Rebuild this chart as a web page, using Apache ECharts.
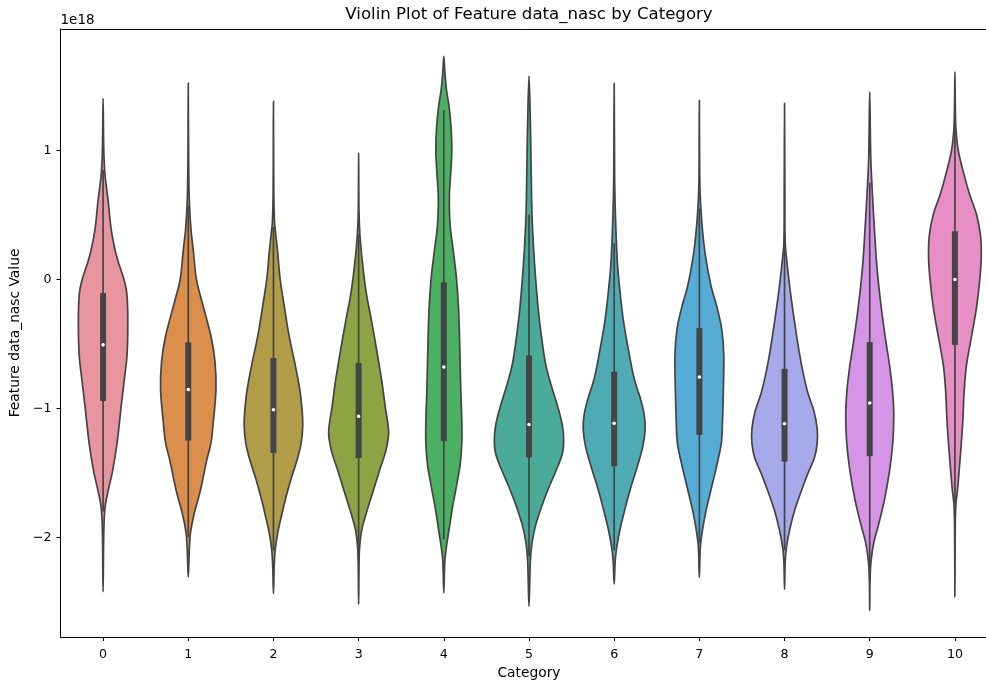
<!DOCTYPE html>
<html><head><meta charset="utf-8">
<script src="https://cdn.jsdelivr.net/npm/echarts@6/dist/echarts.min.js"></script>
<style>html,body{margin:0;padding:0;background:#fff}#c{width:986px;height:681px}</style>
</head><body><div id="c"></div>
<script>
// values in units of 1e18
const categories = ['0','1','2','3','4','5','6','7','8','9','10'];
const medians = [-0.507,-0.853,-1.011,-1.061,-0.679,-1.125,-1.116,-0.756,-1.119,-0.958,0.0];
const q1 = [-0.942,-1.249,-1.346,-1.385,-1.255,-1.380,-1.449,-1.205,-1.413,-1.371,-0.507];
const q3 = [-0.105,-0.488,-0.609,-0.648,-0.022,-0.590,-0.715,-0.377,-0.693,-0.485,0.374];
const whiskerLow = [-1.80,-2.00,-2.10,-2.20,-2.017,-2.15,-2.10,-2.044,-2.10,-2.35,-1.74];
const whiskerHigh = [0.85,0.573,0.407,0.35,1.313,0.504,0.283,0.55,0.296,0.753,1.20];
const yTicks = [-2,-1,0,1];
// violin outline: values (top to bottom) and half-widths (fraction of category band)
const violinValues = [
  [1.404,1.003,0.809,0.615,0.393,0.227,0.116,0.006,-0.105,-0.299,-0.576,-0.770,-0.992,-1.269,-1.490,-1.629,-1.767,-1.961,-2.424],
  [1.524,0.947,0.615,0.393,0.227,0.006,-0.161,-0.438,-0.632,-0.853,-1.130,-1.269,-1.407,-1.629,-1.823,-1.961,-2.100,-2.307],
  [1.382,0.670,0.449,0.393,0.227,0.006,-0.216,-0.438,-0.659,-0.853,-0.992,-1.130,-1.269,-1.407,-1.546,-1.684,-1.823,-1.961,-2.100,-2.238,-2.438],
  [0.983,0.532,0.338,0.116,-0.105,-0.327,-0.576,-0.798,-0.992,-1.186,-1.324,-1.463,-1.629,-1.795,-1.934,-2.044,-2.155,-2.521],
  [1.731,1.612,1.474,1.335,1.169,1.003,0.837,0.670,0.532,0.393,0.227,0.006,-0.216,-0.438,-0.659,-0.881,-1.102,-1.269,-1.435,-1.601,-1.767,-1.934,-2.072,-2.183,-2.432],
  [1.579,1.224,0.947,0.504,0.227,0.006,-0.216,-0.438,-0.659,-0.825,-0.992,-1.130,-1.241,-1.352,-1.490,-1.629,-1.767,-1.906,-2.044,-2.183,-2.535],
  [1.521,0.947,0.670,0.338,0.116,-0.105,-0.327,-0.548,-0.770,-0.936,-1.047,-1.158,-1.296,-1.463,-1.629,-1.795,-1.934,-2.072,-2.183,-2.363],
  [1.391,0.809,0.615,0.393,0.172,-0.050,-0.216,-0.382,-0.576,-0.853,-1.130,-1.269,-1.435,-1.629,-1.795,-1.934,-2.072,-2.313],
  [1.368,0.670,0.283,0.116,-0.105,-0.327,-0.548,-0.715,-0.881,-1.019,-1.158,-1.269,-1.380,-1.518,-1.657,-1.795,-1.934,-2.072,-2.183,-2.404],
  [1.457,0.947,0.670,0.393,0.116,-0.161,-0.438,-0.659,-0.853,-1.047,-1.269,-1.490,-1.712,-1.906,-2.044,-2.183,-2.321,-2.570],
  [1.612,1.363,1.169,1.003,0.837,0.670,0.504,0.338,0.172,0.006,-0.216,-0.438,-0.659,-0.853,-1.130,-1.407,-1.629,-1.740,-1.906,-2.460]
];
const violinHalfWidths = [
  [0,0.008,0.023,0.059,0.094,0.141,0.188,0.243,0.278,0.290,0.282,0.250,0.211,0.164,0.110,0.063,0.023,0.008,0],
  [0,0.004,0.012,0.031,0.059,0.094,0.156,0.266,0.313,0.325,0.290,0.266,0.215,0.145,0.067,0.027,0.012,0],
  [0,0.004,0.012,0.020,0.047,0.078,0.129,0.184,0.254,0.309,0.333,0.344,0.325,0.274,0.207,0.149,0.098,0.051,0.020,0.008,0],
  [0,0.004,0.016,0.047,0.090,0.153,0.219,0.274,0.313,0.352,0.321,0.254,0.176,0.098,0.039,0.016,0.006,0],
  [0,0.012,0.031,0.063,0.086,0.094,0.082,0.066,0.066,0.078,0.110,0.149,0.172,0.184,0.192,0.200,0.211,0.211,0.192,0.149,0.102,0.063,0.031,0.012,0],
  [0,0.016,0.023,0.035,0.055,0.078,0.106,0.145,0.196,0.262,0.340,0.391,0.407,0.391,0.313,0.223,0.145,0.078,0.035,0.016,0],
  [0,0.004,0.008,0.023,0.039,0.070,0.110,0.168,0.235,0.313,0.352,0.364,0.336,0.266,0.188,0.121,0.070,0.031,0.012,0],
  [0,0.004,0.012,0.035,0.074,0.137,0.207,0.262,0.286,0.282,0.270,0.258,0.207,0.137,0.078,0.039,0.012,0],
  [0,0.004,0.008,0.031,0.070,0.117,0.168,0.215,0.274,0.344,0.383,0.383,0.352,0.266,0.188,0.117,0.063,0.023,0.008,0],
  [0,0.012,0.031,0.055,0.082,0.125,0.180,0.231,0.266,0.282,0.270,0.231,0.172,0.102,0.047,0.016,0.004,0],
  [0,0.004,0.012,0.039,0.098,0.168,0.254,0.301,0.309,0.293,0.254,0.196,0.137,0.110,0.090,0.059,0.031,0.012,0.004,0]
];
const colors = ['#e9959f','#dc8f4d','#b19c47','#8ea444','#4bb062','#4aab98','#4eabb3','#55acd4','#a6aaea','#d694e6','#e78fc5'];

const FONT = '"DejaVu Sans", sans-serif';
const GRAY = '#444444';
const chart = echarts.init(document.getElementById('c'), null, {renderer: 'canvas'});

function renderViolin(params, api) {
  const i = api.value(0);
  const band = api.size([1, 0])[0];
  const cx = api.coord([i, 0])[0];
  const ys = violinValues[i], ws = violinHalfWidths[i];
  const right = ys.map((y, k) => [cx + ws[k] * band, api.coord([i, y])[1]]);
  const left = [];
  for (let k = ys.length - 2; k >= 1; k--) left.push([cx - ws[k] * band, api.coord([i, ys[k]])[1]]);
  const pts = right.concat(left);
  const yHi = api.coord([i, whiskerHigh[i]])[1];
  const yLo = api.coord([i, whiskerLow[i]])[1];
  const yQ3 = api.coord([i, q3[i]])[1];
  const yQ1 = api.coord([i, q1[i]])[1];
  const yMed = api.coord([i, medians[i]])[1];
  return {
    type: 'group',
    children: [
      {type: 'polygon', shape: {points: pts, smooth: 0.35}, style: {fill: colors[i], stroke: GRAY, lineWidth: 1.7}},
      {type: 'line', shape: {x1: cx, y1: yHi, x2: cx, y2: yLo}, style: {stroke: GRAY, lineWidth: 1.7}},
      {type: 'rect', shape: {x: cx - 3, y: yQ3, width: 6, height: yQ1 - yQ3}, style: {fill: GRAY}},
      {type: 'circle', shape: {cx: cx, cy: yMed, r: 1.8}, style: {fill: '#ffffff'}}
    ]
  };
}

chart.setOption({
  animation: false,
  backgroundColor: '#ffffff',
  grid: {left: 60.5, top: 29, width: 937, bottom: 44, show: false,
         containLabel: false, outerBoundsMode: 'none'},
  graphic: [
    {type: 'text', x: 529, y: 15, style: {text: 'Violin Plot of Feature data_nasc by Category', font: '16.6px ' + FONT, fill: '#000', align: 'center', verticalAlign: 'middle'}},
    {type: 'text', x: 60.5, y: 20.5, style: {text: '1e18', font: '13.5px ' + FONT, fill: '#000', align: 'left', verticalAlign: 'middle'}}
  ],
  xAxis: [{
    type: 'category', data: categories, boundaryGap: true, position: 'bottom',
    name: 'Category', nameLocation: 'middle', nameGap: 29,
    nameTextStyle: {fontFamily: FONT, fontSize: 13.8, color: '#000'},
    axisLine: {show: true, onZero: false, lineStyle: {color: '#000', width: 1}},
    axisTick: {show: true, alignWithLabel: true, length: 4, lineStyle: {color: '#000'}},
    axisLabel: {fontFamily: FONT, fontSize: 12.6, color: '#000', margin: 11},
    splitLine: {show: false}
  }, {
    type: 'category', data: categories, boundaryGap: true, position: 'top',
    axisLine: {show: true, onZero: false, lineStyle: {color: '#000', width: 1}},
    axisTick: {show: false}, axisLabel: {show: false}, splitLine: {show: false}
  }],
  yAxis: {
    type: 'value', min: -2.774, max: 1.944,
    name: 'Feature data_nasc Value', nameLocation: 'middle', nameGap: 33.5, nameRotate: 90,
    nameTextStyle: {fontFamily: FONT, fontSize: 13.8, color: '#000'},
    axisLine: {show: true, onZero: false, lineStyle: {color: '#000', width: 1}},
    axisTick: {show: true, length: 4, lineStyle: {color: '#000'}, customValues: yTicks},
    axisLabel: {fontFamily: FONT, fontSize: 12.6, color: '#000', margin: 9, customValues: yTicks,
      formatter: v => v < 0 ? '\u2212' + Math.abs(v) : String(v)},
    splitLine: {show: false}
  },
  series: [{
    type: 'custom',
    renderItem: renderViolin,
    data: categories.map((c, i) => [i]),
    encode: {x: 0},
    xAxisIndex: 0,
    clip: false,
    z: 2
  }]
});
</script></body></html>
